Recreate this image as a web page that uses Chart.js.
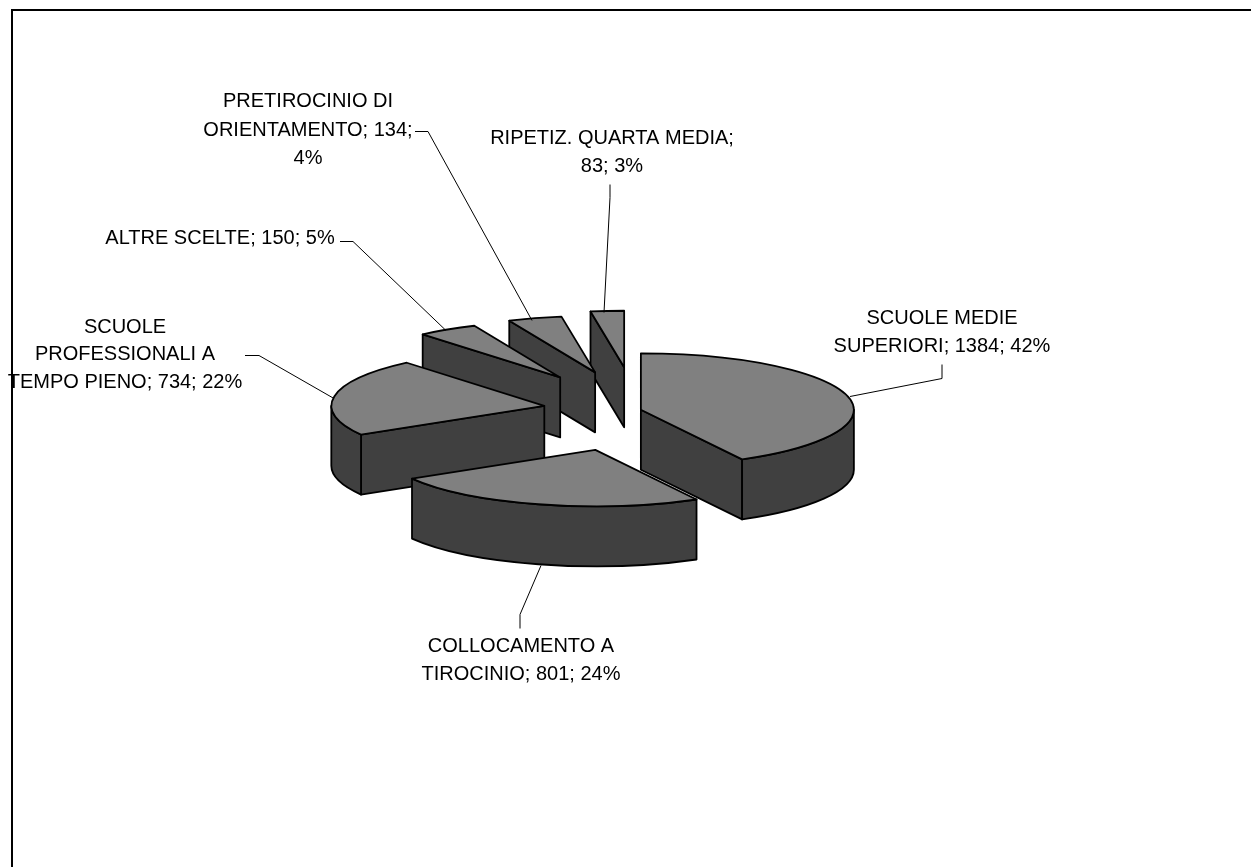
<!DOCTYPE html>
<html><head><meta charset="utf-8">
<style>html,body{margin:0;padding:0;background:#fff}canvas{display:block}</style>
<script src="https://cdn.jsdelivr.net/npm/chart.js@4/dist/chart.umd.js"></script>
</head><body>
<canvas id="c" width="1251" height="867"></canvas>
<script>
const categories = ["SCUOLE MEDIE SUPERIORI","COLLOCAMENTO A TIROCINIO","SCUOLE PROFESSIONALI A TEMPO PIENO","ALTRE SCELTE","PRETIROCINIO DI ORIENTAMENTO","RIPETIZ. QUARTA MEDIA"];
const values = [1384,801,734,150,134,83];
const percents = [42,24,22,5,4,3];
const labelLines = [
  ["SCUOLE MEDIE","SUPERIORI; 1384; 42%"],
  ["COLLOCAMENTO A","TIROCINIO; 801; 24%"],
  ["SCUOLE","PROFESSIONALI A","TEMPO PIENO; 734; 22%"],
  ["ALTRE SCELTE; 150; 5%"],
  ["PRETIROCINIO DI","ORIENTAMENTO; 134;","4%"],
  ["RIPETIZ. QUARTA MEDIA;","83; 3%"]
];
const explode = [4,156,94,145,148,162];
const style3d = {tilt:0.265, depth:60, top:"#808080", side:"#404040", line:"#000000", lineWidth:1.8};
const labelLayout = [
  {x:942,ys:[318,346],leader:[[942,364],[942,378],[850,396]]},
  {x:521,ys:[646,674],leader:[[520,628],[520,614],[541,565]]},
  {x:125,ys:[327,354,382],leader:[[245,355],[259,355],[334,398]]},
  {x:220,ys:[238],leader:[[340,241],[353,241],[446,330]]},
  {x:308,ys:[101,130,158],leader:[[415,131],[428,131],[532,320]]},
  {x:612,ys:[138,166],leader:[[610,184],[610,197],[604,312]]}
];
const pie3d = {
  id:"pie3d",
  beforeDraw(chart){
    const c=chart.ctx;c.save();c.strokeStyle="#000";c.lineWidth=2;
    c.beginPath();c.moveTo(12,880);c.lineTo(12,10);c.lineTo(1260,10);c.stroke();c.restore();
  },
  beforeDatasetDraw(chart,args){
    const c=chart.ctx, T=style3d.tilt, D=style3d.depth;
    const arcs=chart.getDatasetMeta(args.index).data.map((a,i)=>{
      const m=(a.startAngle+a.endAngle)/2, d=explode[i];
      return {s:a.startAngle,e:a.endAngle,R:a.outerRadius,
        ax:a.x+d*Math.cos(m),ay:a.y+d*Math.sin(m)*T};
    }).sort((p,q)=>p.ay-q.ay);
    c.save();
    c.lineJoin="round";c.lineWidth=style3d.lineWidth;c.strokeStyle=style3d.line;
    for(const p of arcs){
      const ry=p.R*T, pt=t=>[p.ax+p.R*Math.cos(t),p.ay+ry*Math.sin(t)];
      c.fillStyle=style3d.side;
      const face=(t)=>{const q=pt(t);c.beginPath();c.moveTo(p.ax,p.ay);c.lineTo(q[0],q[1]);
        c.lineTo(q[0],q[1]+D);c.lineTo(p.ax,p.ay+D);c.closePath();c.fill();c.stroke();};
      if(Math.sin(p.s-Math.PI/2)>1e-6) face(p.s);
      if(Math.sin(p.e+Math.PI/2)>1e-6) face(p.e);
      const lo=Math.max(p.s,0),hi=Math.min(p.e,Math.PI);
      if(hi>lo){
        c.beginPath();c.ellipse(p.ax,p.ay,p.R,ry,0,lo,hi);
        c.ellipse(p.ax,p.ay+D,p.R,ry,0,hi,lo,true);c.closePath();c.fill();c.stroke();
      }
      c.fillStyle=style3d.top;
      c.beginPath();c.moveTo(p.ax,p.ay);c.ellipse(p.ax,p.ay,p.R,ry,0,p.s,p.e);c.closePath();c.fill();c.stroke();
    }
    c.restore();
    return false;
  },
  afterDraw(chart){
    const c=chart.ctx;c.save();
    c.fillStyle="#000";c.strokeStyle="#000";c.lineWidth=1;
    c.font='20px "Liberation Sans", Arial, sans-serif';c.textAlign="center";c.textBaseline="middle";
    labelLayout.forEach((l,i)=>{
      labelLines[i].forEach((t,j)=>c.fillText(t,l.x,l.ys[j]));
      c.beginPath();l.leader.forEach((q,k)=>k?c.lineTo(q[0],q[1]+.5):c.moveTo(q[0],q[1]+.5));c.stroke();
    });
    c.restore();
  }
};
new Chart(document.getElementById("c"),{
  type:"pie",
  data:{labels:categories,datasets:[{data:values,borderWidth:0,backgroundColor:style3d.top}]},
  options:{responsive:false,animation:false,
    layout:{padding:{left:424,right:401,top:197,bottom:244}},
    plugins:{legend:{display:false},tooltip:{enabled:false}}},
  plugins:[pie3d]
});
</script>
</body></html>
